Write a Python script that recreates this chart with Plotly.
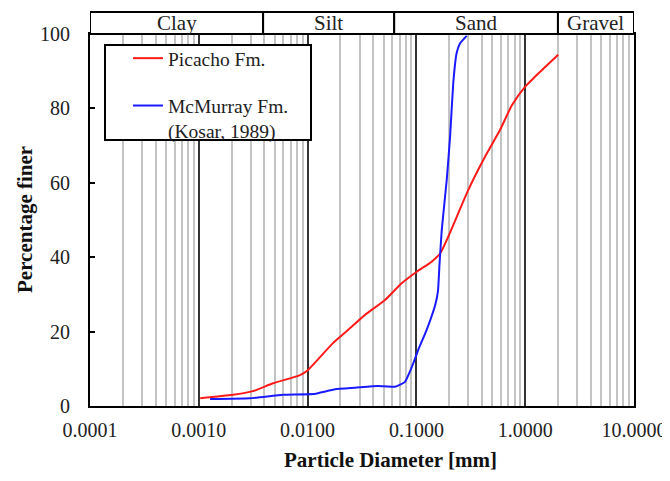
import math
import plotly.graph_objects as go

# ---- data ----
picacho_d = [0.00103, 0.00206, 0.00315, 0.00481, 0.00851, 0.0101, 0.0171, 0.0235, 0.0337,
             0.0514, 0.0732, 0.1007, 0.138, 0.165, 0.196, 0.300, 0.427, 0.586, 0.757,
             0.995, 1.23, 2.01]
picacho_p = [2.1, 3.0, 4.0, 6.1, 8.3, 9.7, 16.9, 20.4, 24.5,
             28.5, 33.0, 36.1, 38.8, 41.0, 45.5, 58.1, 67.0, 74.2, 80.9,
             85.8, 88.5, 94.4]

mcmurray_d = [0.00127, 0.00296, 0.00594, 0.0112, 0.0179, 0.0273, 0.0444, 0.0636, 0.0785,
              0.0937, 0.104, 0.124, 0.150, 0.158, 0.163, 0.171, 0.190, 0.204, 0.218,
              0.234, 0.252, 0.290]
mcmurray_p = [1.9, 2.1, 3.0, 3.2, 4.5, 4.9, 5.4, 5.2, 6.5,
              11.5, 15.1, 20.4, 27.5, 31.0, 38.0, 47.3, 60.8, 72.4, 86.7,
              94.8, 97.5, 99.5]

x_tickvals = [0.0001, 0.001, 0.01, 0.1, 1, 10]
x_ticktext = ["0.0001", "0.0010", "0.0100", "0.1000", "1.0000", "10.0000"]
y_tickvals = [0, 20, 40, 60, 80, 100]

band_names = ["Clay", "Silt", "Sand", "Gravel"]
band_edges = [0.0001, 0.0039, 0.0625, 2.0, 10.0]

FONT = "Liberation Serif"
minor_vals = [m * 10 ** e for e in range(-4, 1) for m in range(2, 10)]

fig = go.Figure()
fig.add_trace(go.Scatter(x=picacho_d, y=picacho_p, mode="lines", name="Picacho Fm.",
                         legendgroup="a",
                         line=dict(color="#ff1a1a", width=2, shape="spline", smoothing=0.6)))
fig.add_trace(go.Scatter(x=mcmurray_d, y=mcmurray_p, mode="lines",
                         name="McMurray Fm.<br>(Kosar, 1989)",
                         legendgroup="b",
                         line=dict(color="#1a1aff", width=2, shape="spline", smoothing=0.4)))

PH = 372.0
PW = 544.0
band_h = 22 / PH
shapes = []
annotations = []
for i, nm in enumerate(band_names):
    x0, x1 = band_edges[i], band_edges[i + 1]
    shapes.append(dict(type="rect", xref="x", yref="paper", x0=x0, x1=x1, y0=1, y1=1 + band_h,
                       line=dict(color="black", width=2), fillcolor="white"))
    annotations.append(dict(xref="x", yref="paper", x=(math.log10(x0) + math.log10(x1)) / 2,
                            y=1 + band_h / 2, text=nm, showarrow=False,
                            font=dict(family=FONT, size=21, color="#222"),
                            xanchor="center", yanchor="middle"))

# legend frame
shapes.append(dict(type="rect", xref="paper", yref="paper",
                   x0=15 / PW, x1=221 / PW, y0=(406 - 140) / PH, y1=(406 - 45) / PH,
                   line=dict(color="black", width=2), fillcolor="white", layer="above"))

annotations.append(dict(xref="paper", yref="paper", x=0.553, y=-54 / PH, text="<b>Particle Diameter [mm]</b>",
                        showarrow=False, xanchor="center", yanchor="middle",
                        font=dict(family=FONT, size=21, color="#111")))
annotations.append(dict(xref="paper", yref="paper", x=-65 / PW, y=0.5, text="<b>Percentage finer</b>",
                        textangle=-90, showarrow=False, xanchor="center", yanchor="middle",
                        font=dict(family=FONT, size=21, color="#111")))

fig.update_layout(
    width=662, height=473,
    margin=dict(l=82, r=36, t=26, b=75, autoexpand=False),
    paper_bgcolor="white", plot_bgcolor="white",
    font=dict(family=FONT, size=20, color="#222"),
    shapes=shapes, annotations=annotations,
    showlegend=True,
    legend=dict(x=38 / PW, y=(406 - 39) / PH, xanchor="left", yanchor="top",
                bgcolor="rgba(0,0,0,0)", borderwidth=0,
                font=dict(family=FONT, size=19.5, color="#222"),
                tracegroupgap=19, valign="top"),
    xaxis=dict(type="log", range=[-4, 1], tickmode="array", tickvals=x_tickvals, ticktext=x_ticktext,
               showgrid=True, gridcolor="#333", gridwidth=2, automargin=False,
               showline=True, linecolor="black", linewidth=2, mirror=True,
               ticks="", ticklabelstandoff=5, zeroline=False,
               tickfont=dict(family=FONT, size=20, color="#222"),
               minor=dict(tickmode="array", tickvals=minor_vals, showgrid=True,
                          gridcolor="#c4c4c4", gridwidth=1.5, ticks="")),
    yaxis=dict(range=[0, 100], tickmode="array", tickvals=y_tickvals,
               showgrid=False, zeroline=False, automargin=False,
               showline=True, linecolor="black", linewidth=2, mirror=True,
               ticks="inside", ticklen=5, tickwidth=2, tickcolor="black",
               tickfont=dict(family=FONT, size=20, color="#222"),
               ticklabelstandoff=14),
)

fig.write_html("out.html")
